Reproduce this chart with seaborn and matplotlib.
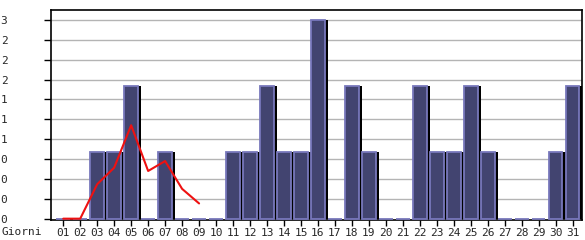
import matplotlib
matplotlib.use("Agg")
import matplotlib.pyplot as plt
import matplotlib.transforms as mtransforms
from matplotlib.artist import Artist
import seaborn as sns
import pandas as pd
import numpy as np

days = [f"{d:02d}" for d in range(1, 32)]
visits = [0, 0, 1, 1, 2, 0, 1, 0, 0, 0, 1, 1, 2, 1, 1, 3, 0, 2, 1, 0, 0, 2, 1, 1, 2, 1, 0, 0, 0, 1, 2]
trend_days = days[:9]
trend = [0.0, 0.0, 0.52, 0.77, 1.41, 0.72, 0.87, 0.45, 0.23]
ytick_vals = [0, 0.3, 0.6, 0.9, 1.2, 1.5, 1.8, 2.1, 2.4, 2.7, 3.0]
ytick_labels = ["0", "0", "0", "0", "1", "1", "1", "2", "2", "2", "3"]
xlabel = "Giorni"

sns.set_style("white")
plt.rcParams['font.family'] = ['DejaVu Sans Mono']

fig = plt.figure(figsize=(5.85, 2.40), dpi=100)
ax = fig.add_axes([50.5/585, 1 - 220/240, (582 - 50.5)/585, 210/240])

df = pd.DataFrame({"day": days, "visits": visits})

# shadow bars
sns.barplot(data=df, x="day", y="visits", color="black", width=0.8,
            saturation=1, ax=ax, linewidth=0, zorder=2)
n_shadow = len(ax.patches)
shift = mtransforms.ScaledTranslation(3.2/100, 0, fig.dpi_scale_trans)
for p in ax.patches[:n_shadow]:
    p.set_transform(Artist.get_transform(p) + shift)

# main bars
sns.barplot(data=df, x="day", y="visits", color="#424470", width=0.8,
            saturation=1, ax=ax, edgecolor="#7878bc", linewidth=1.3, zorder=3)

tdf = pd.DataFrame({"x": np.arange(len(trend_days)), "v": trend})
sns.lineplot(data=tdf, x="x", y="v", color="#ee1111", linewidth=1.5, ax=ax, zorder=5)

ax.set_xlim(-0.75, 30.55)
ax.set_ylim(-0.02, 3.15)
ax.set_yticks(ytick_vals)
ax.set_yticklabels(ytick_labels)
ax.set_xticks(range(len(days)))
ax.set_xticklabels(days)
ax.set_xlabel("")
ax.set_ylabel("")
for y in ytick_vals[1:]:
    ax.axhline(y, color="#b4b4b4", linewidth=1.0, zorder=1)

for s in ax.spines.values():
    s.set_visible(True)
    s.set_color("black")
    s.set_linewidth(1.2)

ax.tick_params(axis="y", length=5, width=1, color="black", pad=26,
               labelsize=8, left=True)
ax.tick_params(axis="x", length=4, width=1, color="black", pad=2,
               labelsize=8, bottom=True)
for lbl in ax.get_yticklabels():
    lbl.set_horizontalalignment("right")

fig.text(1/585, 1 - 232/240, xlabel, fontsize=8, va="center", ha="left")

fig.savefig("out.png", dpi=100)
